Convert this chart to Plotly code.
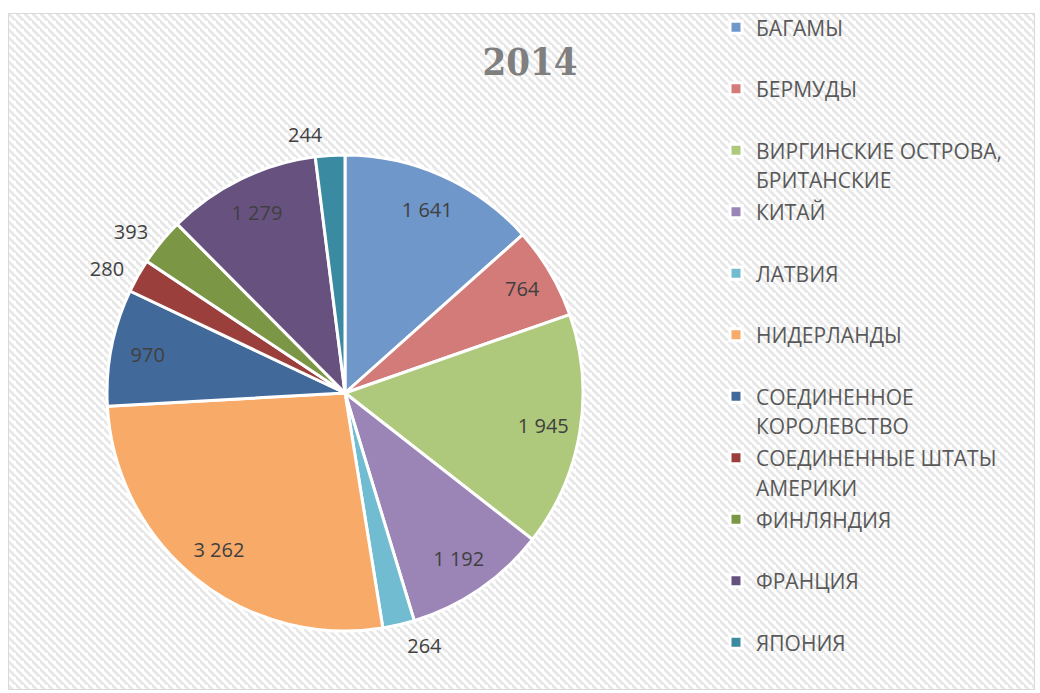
import base64
import plotly.graph_objects as go

# ---- data ----
countries = ["БАГАМЫ", "БЕРМУДЫ", "ВИРГИНСКИЕ ОСТРОВА,<br>БРИТАНСКИЕ", "КИТАЙ", "ЛАТВИЯ",
             "НИДЕРЛАНДЫ", "СОЕДИНЕННОЕ<br>КОРОЛЕВСТВО", "СОЕДИНЕННЫЕ ШТАТЫ<br>АМЕРИКИ",
             "ФИНЛЯНДИЯ", "ФРАНЦИЯ", "ЯПОНИЯ"]
values = [1641, 764, 1945, 1192, 264, 3262, 970, 280, 393, 1279, 244]
colors = ["#6f97c9", "#d27b79", "#afc97c", "#9a85b6", "#72bcd1", "#f8aa69",
          "#41699a", "#9b3f3c", "#7b9645", "#67517f", "#3a8aa1"]
title_text = "2014"

W, H = 1040, 693
CX, CY, R = 345, 393, 238      # pie centre / radius (pixels)
RT = 246                       # radius of the label ring
HOLE = 156 / RT                # inner radius of label ring -> labels near 200 px

# legend labels: every entry occupies two lines, like the reference
legend_labels = []
for c in countries:
    txt = c if "<br>" in c else c + "<br> "
    parts = txt.split("<br>")
    legend_labels.append("<br>".join(f'<span style="font-size:21px">{p}</span>' for p in parts))

textpos = ["outside" if v < 500 else "inside" for v in values]
lab_font = dict(family="Open Sans", size=20, color="#404040")


def dom(r):
    return dict(x=[(CX - r) / W, (CX + r) / W], y=[1 - (CY + r) / H, 1 - (CY - r) / H])


fig = go.Figure()
# coloured slices
fig.add_trace(go.Pie(
    labels=legend_labels, values=values, sort=False, direction="clockwise", rotation=0,
    marker=dict(colors=colors, line=dict(color="white", width=3)),
    textinfo="none", domain=dom(R), hoverinfo="label+value",
))
# transparent ring carrying the data labels
fig.add_trace(go.Pie(
    labels=legend_labels, values=values, sort=False, direction="clockwise", rotation=0,
    hole=HOLE, showlegend=False,
    marker=dict(colors=["rgba(0,0,0,0)"] * len(values), line=dict(width=0)),
    texttemplate="%{value:,}", textposition=textpos, insidetextorientation="horizontal",
    textfont=lab_font, insidetextfont=lab_font, outsidetextfont=lab_font,
    domain=dom(RT), hoverinfo="skip",
))

# striped background (Excel "wide downward diagonal" pattern)
bw, bh = 1027, 677
svg = f'''<svg xmlns="http://www.w3.org/2000/svg" width="{bw}" height="{bh}" viewBox="0 0 {bw} {bh}">
<defs><pattern id="p" width="8" height="8" patternUnits="userSpaceOnUse">
<rect width="8" height="8" fill="#ffffff"/>
<path d="M-2,-2 L10,10 M-6,2 L2,10 M6,-6 L14,2" stroke="#e7e7e7" stroke-width="2.8"/>
</pattern></defs>
<rect x="0" y="0" width="{bw}" height="{bh}" fill="url(#p)"/>
<rect x="0.5" y="0.5" width="{bw-1}" height="{bh-1}" fill="none" stroke="#d9d9d9" stroke-width="1"/>
</svg>'''
src = "data:image/svg+xml;base64," + base64.b64encode(svg.encode()).decode()

fig.update_layout(
    width=W, height=H,
    margin=dict(l=0, r=0, t=0, b=0),
    paper_bgcolor="white",
    separators=", ",
    images=[dict(source=src, xref="paper", yref="paper", x=8 / W, y=1 - 13 / H,
                 sizex=bw / W, sizey=bh / H, xanchor="left", yanchor="top",
                 sizing="stretch", layer="below")],
    title=dict(text=f"<b>{title_text}</b>", x=530 / W, y=1 - 62 / H, xanchor="center", yanchor="middle",
               font=dict(family="DejaVu Serif Condensed, DejaVu Serif", size=38, color="#7f7f7f")),
    legend=dict(x=716 / W, y=1 - 14 / H, xanchor="left", yanchor="top",
                font=dict(family="Open Sans", size=22.5, color="#595959"),
                valign="top", bgcolor="rgba(0,0,0,0)", traceorder="normal"),
    showlegend=True,
)

fig.write_html("out.html", post_script="document.body.style.margin='0px';",
               config={"displayModeBar": False})
